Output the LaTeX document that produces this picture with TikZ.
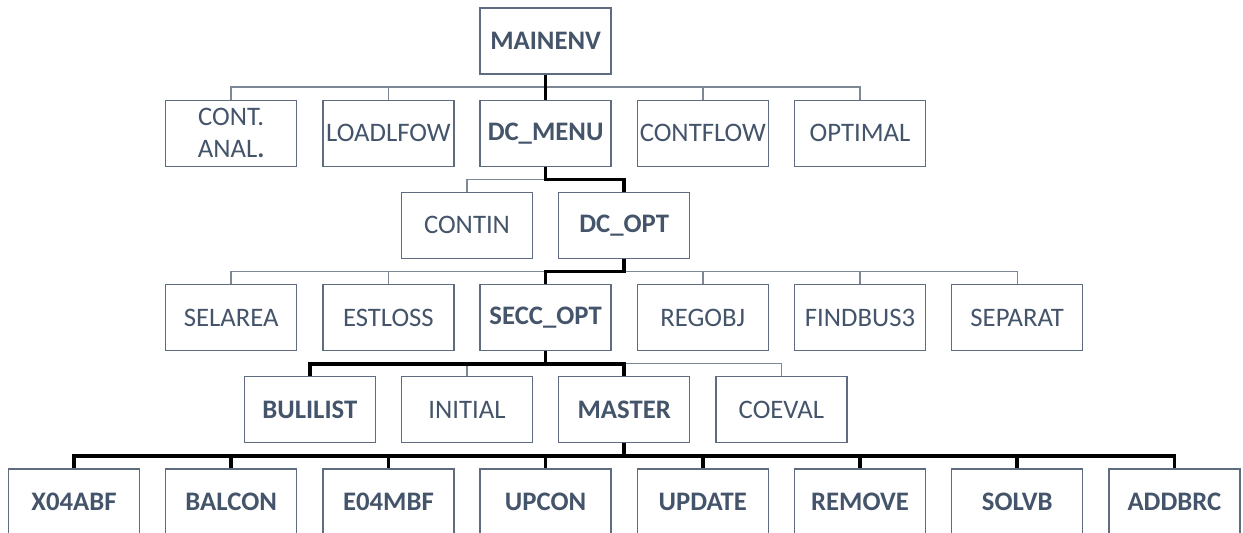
\documentclass[tikz,border=0pt]{standalone}
\usepackage{fontspec}
\setmainfont{Carlito}
\usepackage{xcolor}
\usepackage{tikz}
\usetikzlibrary{calc}

\definecolor{boxline}{HTML}{5F6B7E}
\definecolor{boxtext}{HTML}{44546A}
\definecolor{linkgray}{HTML}{7D8796}

\begin{document}
\begin{tikzpicture}[
        x=3.93cm, y=-2.305cm,
        box/.style={draw=boxline, line width=0.9pt, fill=white, minimum width=3.275cm, minimum height=1.65cm, align=center, inner sep=1pt, text=boxtext, font=\fontsize{19}{23}\selectfont},
        mainbox/.style={box, font=\fontsize{19}{23}\selectfont\bfseries},
        link/.style={draw=linkgray, line width=1pt},
        mainlink/.style={draw=black, line width=2.6pt}
    ]
        \useasboundingbox (-0.4707,-0.4447) rectangle (7.4364,5.3254);
        \clip (-0.4707,-0.4447) rectangle (7.4364,5.3254);

        % Call tree, one row per level
        \node[mainbox] (mainenv) at (3,0) {MAINENV};

        \node[box] (contanal) at (1,1) {CONT.\\ANAL\textbf{.}};
        \node[box] (loadlfow) at (2,1) {LOADLFOW};
        \node[mainbox] (dcmenu) at (3,1) {DC\_MENU};
        \node[box] (contflow) at (4,1) {CONTFLOW};
        \node[box] (optimal) at (5,1) {OPTIMAL};

        \node[box] (contin) at (2.5,2) {CONTIN};
        \node[mainbox] (dcopt) at (3.5,2) {DC\_OPT};

        \node[box] (selarea) at (1,3) {SELAREA};
        \node[box] (estloss) at (2,3) {ESTLOSS};
        \node[mainbox] (seccopt) at (3,3) {SECC\_OPT};
        \node[box] (regobj) at (4,3) {REGOBJ};
        \node[box] (findbus) at (5,3) {FINDBUS3};
        \node[box] (separat) at (6,3) {SEPARAT};

        \node[mainbox] (bulilist) at (1.5,4) {BULILIST};
        \node[box] (initial) at (2.5,4) {INITIAL};
        \node[mainbox] (master) at (3.5,4) {MASTER};
        \node[box] (coeval) at (4.5,4) {COEVAL};

        \node[mainbox] (x04abf) at (0,5) {X04ABF};
        \node[mainbox] (balcon) at (1,5) {BALCON};
        \node[mainbox] (e04mbf) at (2,5) {E04MBF};
        \node[mainbox] (upcon) at (3,5) {UPCON};
        \node[mainbox] (update) at (4,5) {UPDATE};
        \node[mainbox] (remove) at (5,5) {REMOVE};
        \node[mainbox] (solvb) at (6,5) {SOLVB};
        \node[mainbox] (addbrc) at (7,5) {ADDBRC};

        % Side branches (thin)
        \draw[link] (mainenv.south) |- ([yshift=0.31cm]contanal.north) -- (contanal.north);
        \draw[link] (mainenv.south) |- ([yshift=0.31cm]loadlfow.north) -- (loadlfow.north);
        \draw[link] (mainenv.south) |- ([yshift=0.31cm]contflow.north) -- (contflow.north);
        \draw[link] (mainenv.south) |- ([yshift=0.31cm]optimal.north) -- (optimal.north);
        \draw[link] (dcmenu.south) |- ([yshift=0.31cm]contin.north) -- (contin.north);
        \draw[link] (dcopt.south) |- ([yshift=0.31cm]selarea.north) -- (selarea.north);
        \draw[link] (dcopt.south) |- ([yshift=0.31cm]estloss.north) -- (estloss.north);
        \draw[link] (dcopt.south) |- ([yshift=0.31cm]regobj.north) -- (regobj.north);
        \draw[link] (dcopt.south) |- ([yshift=0.31cm]findbus.north) -- (findbus.north);
        \draw[link] (dcopt.south) |- ([yshift=0.31cm]separat.north) -- (separat.north);
        \draw[link] (seccopt.south) |- ([yshift=0.31cm]initial.north) -- (initial.north);
        \draw[link] (seccopt.south) |- ([yshift=0.31cm]coeval.north) -- (coeval.north);

        % Main path (thick)
        \draw[mainlink] (mainenv.south) -- (dcmenu.north);
        \draw[mainlink] (dcmenu.south) |- ([yshift=0.31cm]dcopt.north) -- (dcopt.north);
        \draw[mainlink] (dcopt.south) |- ([yshift=0.31cm]seccopt.north) -- (seccopt.north);
        \draw[mainlink] (seccopt.south) |- ([yshift=0.31cm]bulilist.north) -- (bulilist.north);
        \draw[mainlink] (seccopt.south) |- ([yshift=0.31cm]master.north) -- (master.north);
        \draw[mainlink] (master.south) |- ([yshift=0.31cm]x04abf.north) -- (x04abf.north);
        \draw[mainlink] (master.south) |- ([yshift=0.31cm]balcon.north) -- (balcon.north);
        \draw[mainlink] (master.south) |- ([yshift=0.31cm]e04mbf.north) -- (e04mbf.north);
        \draw[mainlink] (master.south) |- ([yshift=0.31cm]upcon.north) -- (upcon.north);
        \draw[mainlink] (master.south) |- ([yshift=0.31cm]update.north) -- (update.north);
        \draw[mainlink] (master.south) |- ([yshift=0.31cm]remove.north) -- (remove.north);
        \draw[mainlink] (master.south) |- ([yshift=0.31cm]solvb.north) -- (solvb.north);
        \draw[mainlink] (master.south) |- ([yshift=0.31cm]addbrc.north) -- (addbrc.north);
    \end{tikzpicture}
\end{document}
